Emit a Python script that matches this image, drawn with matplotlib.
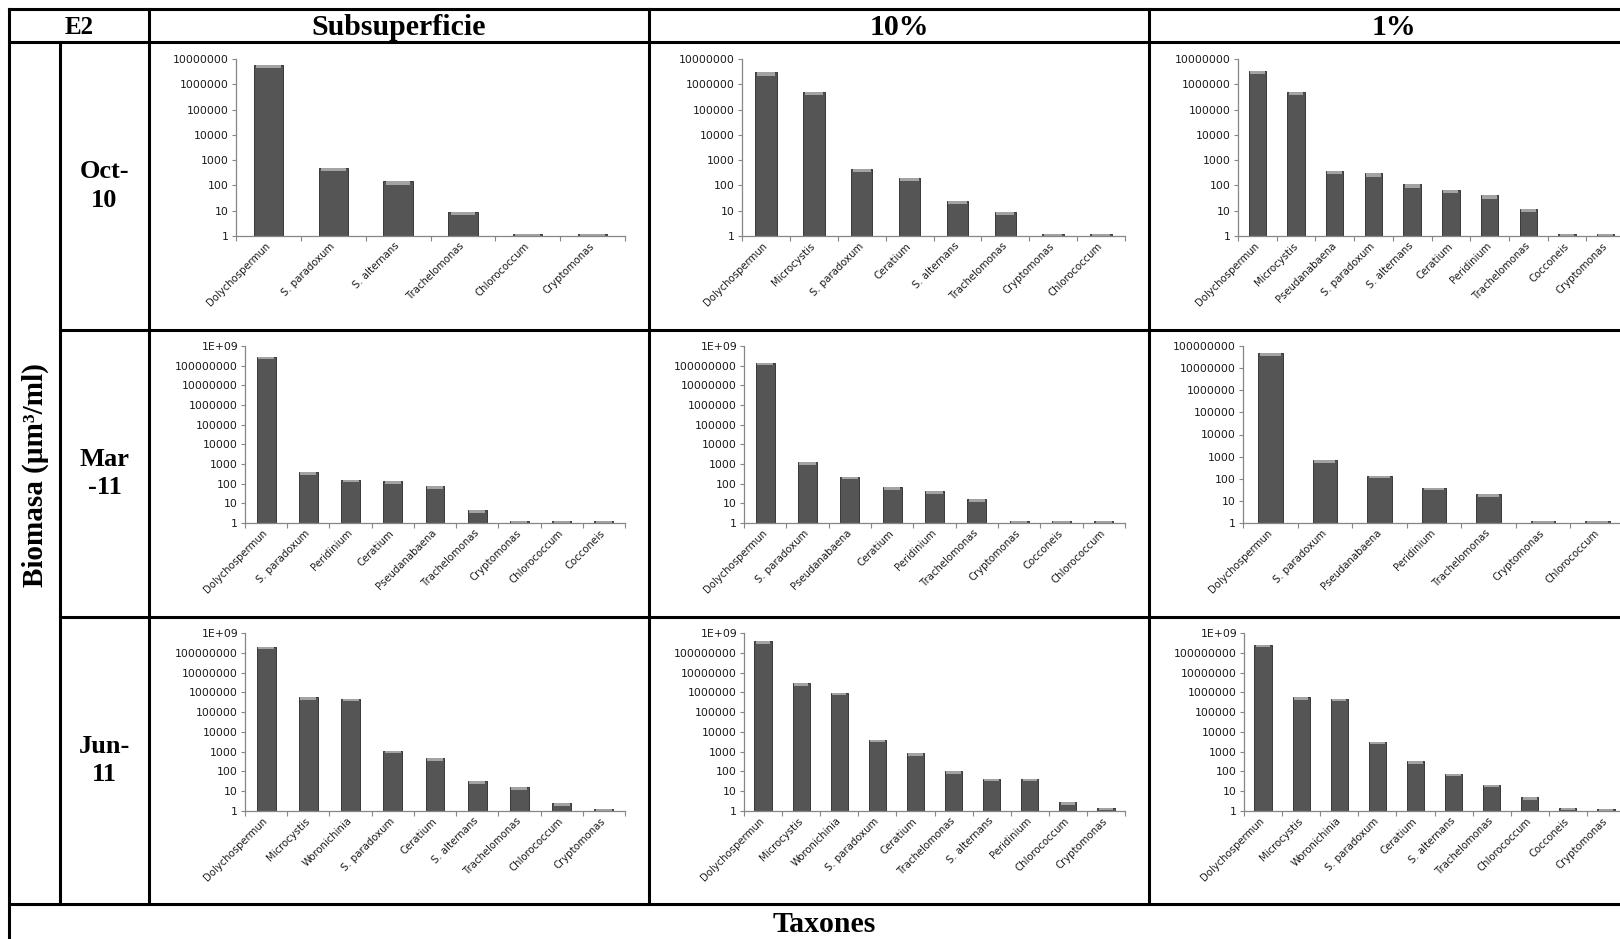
import numpy as np
import matplotlib
matplotlib.use('Agg')
import matplotlib.pyplot as plt
from matplotlib.lines import Line2D
from matplotlib.ticker import FixedLocator, NullLocator

W, H = 1620, 939
plt.rcParams['font.family'] = ['DejaVu Sans']

# ---- data (biomass, um3/ml) ----
# Oct-10
oct_sub_taxa = ['Dolychospermun', 'S. paradoxum', 'S. alternans', 'Trachelomonas', 'Chlorococcum', 'Cryptomonas']
oct_sub_vals = [6.0e6, 480, 145, 9, 1.25, 1.25]
oct_10_taxa = ['Dolychospermun', 'Microcystis', 'S. paradoxum', 'Ceratium', 'S. alternans', 'Trachelomonas',
               'Cryptomonas', 'Chlorococcum']
oct_10_vals = [3.0e6, 5.0e5, 450, 200, 25, 9, 1.25, 1.25]
oct_1_taxa = ['Dolychospermun', 'Microcystis', 'Pseudanabaena', 'S. paradoxum', 'S. alternans', 'Ceratium',
              'Peridinium', 'Trachelomonas', 'Cocconeis', 'Cryptomonas']
oct_1_vals = [3.3e6, 5.0e5, 370, 300, 110, 65, 40, 12, 1.25, 1.25]

# Mar-11
mar_sub_taxa = ['Dolychospermun', 'S. paradoxum', 'Peridinium', 'Ceratium', 'Pseudanabaena', 'Trachelomonas',
                'Cryptomonas', 'Chlorococcum', 'Cocconeis']
mar_sub_vals = [2.8e8, 380, 160, 130, 75, 4.5, 1.25, 1.25, 1.25]
mar_10_taxa = ['Dolychospermun', 'S. paradoxum', 'Pseudanabaena', 'Ceratium', 'Peridinium', 'Trachelomonas',
               'Cryptomonas', 'Cocconeis', 'Chlorococcum']
mar_10_vals = [1.4e8, 1200, 230, 65, 42, 16, 1.25, 1.25, 1.25]
mar_1_taxa = ['Dolychospermun', 'S. paradoxum', 'Pseudanabaena', 'Peridinium', 'Trachelomonas',
              'Cryptomonas', 'Chlorococcum']
mar_1_vals = [5.0e7, 680, 140, 40, 21, 1.25, 1.25]

# Jun-11
jun_sub_taxa = ['Dolychospermun', 'Microcystis', 'Woronichinia', 'S. paradoxum', 'Ceratium', 'S. alternans',
                'Trachelomonas', 'Chlorococcum', 'Cryptomonas']
jun_sub_vals = [2.0e8, 5.5e5, 4.8e5, 1100, 480, 33, 16, 2.5, 1.25]
jun_10_taxa = ['Dolychospermun', 'Microcystis', 'Woronichinia', 'S. paradoxum', 'Ceratium', 'Trachelomonas',
               'S. alternans', 'Peridinium', 'Chlorococcum', 'Cryptomonas']
jun_10_vals = [3.8e8, 2.8e6, 9.5e5, 4000, 850, 105, 42, 42, 2.8, 1.5]
jun_1_taxa = ['Dolychospermun', 'Microcystis', 'Woronichinia', 'S. paradoxum', 'Ceratium', 'S. alternans',
              'Trachelomonas', 'Chlorococcum', 'Cocconeis', 'Cryptomonas']
jun_1_vals = [2.6e8, 5.5e5, 4.8e5, 3200, 330, 75, 21, 5, 1.5, 1.3]

col_titles = ['Subsuperficie', '10%', '1%']
row_titles = ['Oct-\n10', 'Mar\n-11', 'Jun-\n11']
top_exp = [[7, 7, 7], [9, 9, 8], [9, 9, 9]]

panels = [[(oct_sub_taxa, oct_sub_vals), (oct_10_taxa, oct_10_vals), (oct_1_taxa, oct_1_vals)],
          [(mar_sub_taxa, mar_sub_vals), (mar_10_taxa, mar_10_vals), (mar_1_taxa, mar_1_vals)],
          [(jun_sub_taxa, jun_sub_vals), (jun_10_taxa, jun_10_vals), (jun_1_taxa, jun_1_vals)]]

# ---- layout in pixels ----
x_left, x_mid, x_cols, x_right = 9, 60, [149, 649, 1149], 1639
y_top, y_head, y_rows, y_bot = 9, 42, [42, 330, 617, 904], 939

ax_tops = [59, 346, 633]
ax_bots = [236, 523, 811]
ax_lefts = [[236, 742, 1238], [245, 744, 1243], [245, 744, 1244]]
ax_rights = [625, 1125, 1625]

fig = plt.figure(figsize=(W / 100, H / 100), dpi=100)

def fx(x):
    return x / W

def fy(y):
    return 1 - y / H

def line(x0, y0, x1, y1):
    fig.add_artist(Line2D([fx(x0), fx(x1)], [fy(y0), fy(y1)], transform=fig.transFigure,
                          color='black', lw=2.2, solid_capstyle='projecting'))

def ftext(x, y, s, size, **kw):
    fig.text(fx(x), fy(y), s, ha='center', va='center', fontsize=size, fontweight='bold',
             family='Liberation Serif', **kw)

# table grid
line(x_left, y_top, x_right, y_top)
line(x_left, y_head, x_right, y_head)
for y in y_rows[1:3]:
    line(x_mid, y, x_right, y)
line(x_left, y_rows[3], x_right, y_rows[3])
line(x_left, y_top, x_left, y_bot)
line(x_mid, y_head, x_mid, y_rows[3])
for x in x_cols:
    line(x, y_top, x, y_rows[3])

# headers
ftext((x_left + x_cols[0]) / 2, (y_top + y_head) / 2 + 1.5, 'E2', 18)
for j, t in enumerate(col_titles):
    xe = x_cols[j + 1] if j < 2 else x_right
    ftext((x_cols[j] + xe) / 2, (y_top + y_head) / 2 + 2, t, 21.5)
for i, t in enumerate(row_titles):
    ftext((x_mid + x_cols[0]) / 2, (y_rows[i] + y_rows[i + 1]) / 2, t, 19, linespacing=1.3)
ftext((x_left + x_mid) / 2 + 1, (y_head + y_rows[3]) / 2 + 2, 'Biomasa (µm³/ml)', 21, rotation=90)
ftext((x_left + x_right) / 2, (y_rows[3] + y_bot) / 2 + 3, 'Taxones', 21.5)

gray = '#868686'
for i in range(3):
    for j in range(3):
        taxa, vals = panels[i][j]
        l, r = ax_lefts[i][j], ax_rights[j]
        t, b = ax_tops[i], ax_bots[i]
        ax = fig.add_axes([fx(l), fy(b), (r - l) / W, (b - t) / H])
        ax.patch.set_alpha(0)
        n = len(taxa)
        x = np.arange(n)
        v = np.array(vals)
        ax.set_yscale('log')
        ax.bar(x, v - 1, bottom=1, width=0.45, color='#555555', edgecolor='#383838', lw=0.7, zorder=2)
        cap_b = np.maximum(v / 1.35, 1)
        ax.bar(x, v - cap_b, bottom=cap_b, width=0.38, color='#a3a3a3', lw=0, zorder=3)
        ax.set_ylim(1, 10.0 ** top_exp[i][j])
        ax.set_xlim(-0.5, n - 0.5)
        yt = 10.0 ** np.arange(0, top_exp[i][j] + 1)
        ax.yaxis.set_major_locator(FixedLocator(yt))
        ax.yaxis.set_minor_locator(NullLocator())
        ax.set_yticklabels(['1E+09' if k == 9 else str(10 ** k) for k in range(top_exp[i][j] + 1)])
        ax.set_xticks(x)
        ax.set_xticklabels(taxa, rotation=45, ha='right', va='center', rotation_mode='anchor')
        ax.set_xticks(np.arange(-0.5, n), minor=True)
        ax.tick_params(axis='x', which='major', length=0, pad=6, labelsize=7.3, labelcolor='#1a1a1a')
        ax.tick_params(axis='x', which='minor', length=3.5, color=gray, width=0.8)
        ax.tick_params(axis='y', length=3, color=gray, width=0.8, pad=2, labelsize=7.8, labelcolor='#1a1a1a')
        for s in ['top', 'right']:
            ax.spines[s].set_visible(False)
        for s in ['left', 'bottom']:
            ax.spines[s].set_color(gray)
            ax.spines[s].set_linewidth(0.9)
            ax.spines[s].set_zorder(4)

fig.savefig('out.png', dpi=100)
